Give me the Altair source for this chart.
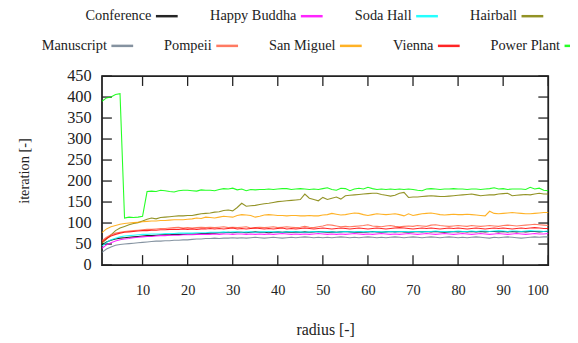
import altair as alt
import pandas as pd

radius = list(range(1, 101))

conference = [48, 55, 59, 62, 64, 65, 66, 67, 68, 69, 70, 70, 71, 72, 72, 72, 73, 73, 73, 74,
              74, 74, 75, 75, 76, 76, 77, 77, 78, 77, 78, 78, 77, 78, 79, 78, 78, 77, 78, 79,
              78, 79, 78, 79, 78, 79, 78, 79, 80, 79, 78, 79, 78, 79, 80, 79, 78, 79, 78, 79,
              80, 79, 78, 79, 80, 79, 80, 79, 78, 79, 80, 79, 80, 79, 80, 79, 78, 79, 80, 79,
              80, 79, 80, 79, 80, 79, 80, 80, 79, 80, 79, 80, 79, 80, 79, 80, 80, 79, 80, 80]
happy_buddha = [40, 48, 53, 57, 60, 62, 63, 65, 66, 67, 68, 68, 69, 70, 70, 71, 71, 71, 72, 72,
                72, 73, 73, 73, 73, 74, 73, 74, 74, 73, 74, 74, 73, 74, 73, 74, 73, 74, 73, 74,
                75, 74, 73, 74, 73, 74, 73, 74, 75, 74, 73, 74, 73, 74, 73, 74, 75, 74, 73, 74,
                73, 74, 75, 74, 73, 74, 73, 74, 75, 74, 73, 74, 75, 74, 73, 74, 75, 74, 73, 74,
                75, 74, 73, 74, 75, 74, 73, 74, 75, 74, 73, 74, 75, 74, 73, 74, 75, 74, 74, 75]
soda_hall = [45, 54, 60, 64, 67, 69, 70, 71, 72, 73, 73, 74, 74, 74, 75, 75, 75, 76, 76, 76,
             76, 77, 77, 77, 78, 78, 78, 79, 78, 79, 79, 78, 79, 79, 78, 79, 79, 80, 79, 79,
             78, 79, 80, 79, 79, 78, 79, 80, 79, 79, 80, 79, 78, 79, 80, 79, 79, 80, 79, 80,
             79, 80, 79, 79, 80, 79, 80, 80, 79, 80, 80, 79, 80, 80, 81, 80, 80, 79, 80, 81,
             80, 80, 81, 80, 81, 81, 80, 81, 82, 81, 80, 81, 81, 80, 81, 82, 81, 81, 80, 81]
hairball = [52, 62, 72, 82, 88, 92, 96, 99, 101, 105, 109, 112, 110, 113, 114, 115, 116, 117, 117, 118,
            118, 120, 122, 123, 124, 126, 127, 130, 131, 129, 137, 147, 140, 141, 142, 144, 146, 147, 149, 151,
            152, 153, 154, 155, 156, 169, 159, 156, 153, 161, 156, 159, 162, 157, 165, 166, 167, 168, 169, 170,
            171, 171, 168, 166, 164, 166, 171, 173, 161, 162, 162, 163, 164, 165, 164, 163, 163, 164, 165, 166,
            167, 168, 169, 167, 165, 166, 167, 167, 169, 170, 171, 165, 166, 167, 168, 167, 169, 171, 169, 169]
manuscript = [30, 38, 43, 47, 49, 50, 51, 52, 53, 54, 55, 56, 57, 57, 58, 58, 59, 59, 60, 60,
              61, 62, 62, 63, 63, 64, 63, 64, 64, 65, 64, 65, 64, 65, 66, 65, 64, 65, 66, 65,
              64, 65, 66, 65, 66, 67, 66, 65, 66, 65, 66, 65, 66, 67, 66, 65, 66, 65, 66, 67,
              66, 65, 66, 65, 66, 67, 66, 65, 66, 67, 66, 65, 66, 67, 66, 65, 66, 67, 66, 65,
              66, 65, 66, 67, 66, 65, 64, 66, 65, 66, 67, 66, 65, 64, 65, 66, 67, 66, 67, 67]
pompeii = [58, 66, 72, 76, 78, 80, 81, 82, 83, 84, 85, 85, 86, 87, 87, 88, 89, 90, 88, 89,
           88, 89, 90, 89, 90, 89, 90, 91, 89, 90, 89, 90, 91, 88, 89, 90, 89, 90, 91, 89,
           90, 91, 90, 89, 90, 92, 90, 89, 91, 93, 96, 95, 93, 91, 92, 91, 92, 93, 94, 96,
           93, 92, 91, 93, 94, 92, 91, 92, 93, 92, 94, 93, 92, 95, 96, 94, 93, 92, 93, 94,
           93, 92, 94, 93, 92, 93, 94, 93, 92, 94, 95, 94, 93, 94, 95, 96, 97, 96, 95, 94]
san_miguel = [77, 86, 91, 94, 97, 99, 100, 101, 102, 103, 104, 105, 105, 106, 106, 107, 108, 108, 108, 109,
              110, 112, 111, 114, 113, 112, 114, 116, 115, 114, 118, 120, 119, 118, 114, 116, 119, 120, 119, 118,
              118, 117, 118, 118, 117, 117, 118, 117, 117, 119, 120, 123, 121, 119, 120, 122, 124, 123, 120, 118,
              120, 122, 121, 120, 121, 122, 120, 117, 122, 118, 120, 122, 123, 124, 122, 120, 119, 120, 121, 120,
              120, 121, 120, 119, 118, 117, 128, 123, 122, 123, 124, 125, 124, 123, 122, 122, 123, 124, 125, 125]
vienna = [55, 63, 69, 73, 76, 78, 79, 80, 81, 82, 82, 83, 83, 84, 84, 85, 85, 85, 86, 85,
          86, 85, 86, 86, 87, 86, 87, 86, 87, 88, 86, 87, 86, 87, 88, 87, 86, 87, 86, 87,
          88, 86, 87, 86, 87, 88, 87, 86, 87, 88, 87, 86, 87, 88, 87, 86, 87, 88, 87, 86,
          87, 88, 87, 86, 87, 88, 89, 88, 87, 86, 87, 88, 87, 88, 87, 86, 87, 88, 87, 88,
          87, 86, 87, 88, 87, 86, 87, 88, 87, 88, 87, 86, 87, 88, 87, 88, 89, 88, 87, 87]
power_plant = [390, 398, 400, 406, 408, 112, 114, 113, 114, 116, 175, 176, 175, 178, 177, 175, 174, 177, 178, 178,
               177, 176, 179, 178, 178, 177, 180, 182, 181, 183, 179, 181, 177, 180, 179, 180, 180, 181, 180, 181,
               182, 182, 180, 181, 182, 181, 180, 181, 180, 182, 184, 180, 178, 183, 182, 177, 181, 183, 181, 185,
               182, 180, 181, 180, 181, 180, 181, 180, 181, 180, 178, 177, 181, 182, 181, 180, 181, 181, 182, 181,
               181, 180, 181, 181, 180, 181, 182, 184, 181, 182, 180, 181, 181, 181, 180, 185, 181, 183, 178, 177]

names_a = ["Conference", "Happy Buddha", "Soda Hall", "Hairball"]
colors_a = ["#000000", "#ff00ff", "#00ffff", "#808000"]
series_a = [conference, happy_buddha, soda_hall, hairball]

names_b = ["Manuscript", "Pompeii", "San Miguel", "Vienna", "Power Plant"]
colors_b = ["#708090", "#ff6347", "#ffa500", "#ff0000", "#00ff00"]
series_b = [manuscript, pompeii, san_miguel, vienna, power_plant]

x_ticks = [10, 20, 30, 40, 50, 60, 70, 80, 90, 100]
y_ticks = [0, 50, 100, 150, 200, 250, 300, 350, 400, 450]

W, H = 451, 191
TICK = 10
FONT = "'Liberation Serif', 'Times New Roman', 'DejaVu Serif', serif"
INK = "#222222"


def long_table(names, series):
    rows = []
    for name, vals in zip(names, series):
        for r, v in zip(radius, vals):
            rows.append({"radius": r, "iteration": v, "scene": name})
    return pd.DataFrame(rows)


df_a = long_table(names_a, series_a)
df_b = long_table(names_b, series_b)
df_xt = pd.DataFrame({"radius": x_ticks})
df_yt = pd.DataFrame({"iteration": y_ticks})

xscale = alt.Scale(domain=[1, 100], nice=False, zero=False)
yscale = alt.Scale(domain=[0, 450], nice=False)

x_axis = alt.Axis(
    orient="bottom", values=x_ticks, format="d", ticks=False, domain=False, grid=False,
    labelPadding=19, labelFont=FONT, labelFontSize=14.5, labelColor=INK,
    title="radius [-]", titleFont=FONT, titleFontSize=16, titleFontWeight="normal",
    titleColor=INK, titlePadding=25)
y_axis = alt.Axis(
    orient="left", values=y_ticks, format="d", ticks=False, domain=False, grid=False,
    labelPadding=11, labelFont=FONT, labelFontSize=16.5, labelColor=INK,
    title="iteration [-]", titleFont=FONT, titleFontSize=14.5, titleFontWeight="normal",
    titleColor=INK, titlePadding=36)

X = alt.X("radius:Q", scale=xscale, axis=x_axis)
Y = alt.Y("iteration:Q", scale=yscale, axis=y_axis)


def legend(x, y, pad):
    return alt.Legend(
        title=None, orient="none", legendX=x, legendY=y, direction="horizontal",
        symbolType="stroke", symbolSize=484, symbolStrokeWidth=2.5,
        labelAlign="right", labelOffset={"expr": "-28"}, columnPadding=pad, padding=0,
        labelFont=FONT, labelFontSize=14.5, labelColor=INK,
    )


# inward tick marks on all four sides, positioned by the shared scales
tick_style = dict(color=INK, strokeWidth=1.3)
ticks_bottom = alt.Chart(df_xt).mark_rule(**tick_style).encode(
    x=X, y=alt.value(H), y2=alt.value(H - TICK))
ticks_top = alt.Chart(df_xt).mark_rule(**tick_style).encode(
    x=X, y=alt.value(0), y2=alt.value(TICK))
ticks_left = alt.Chart(df_yt).mark_rule(**tick_style).encode(
    y=Y, x=alt.value(0), x2=alt.value(TICK))
ticks_right = alt.Chart(df_yt).mark_rule(**tick_style).encode(
    y=Y, x=alt.value(W), x2=alt.value(W - TICK))

layer_a = alt.Chart(df_a).mark_line(strokeWidth=1.1, opacity=0.85).encode(
    x=X, y=Y,
    color=alt.Color("scene:N", scale=alt.Scale(domain=names_a, range=colors_a),
                    legend=legend(53, -73, 26.5)),
)

layer_b = alt.Chart(df_b).mark_line(strokeWidth=1.1, opacity=0.85).encode(
    x=X, y=Y,
    color=alt.Color("scene:N", scale=alt.Scale(domain=names_b, range=colors_b),
                    legend=legend(8, -43, 25)),
)

chart = alt.layer(
    ticks_bottom, ticks_top, ticks_left, ticks_right, layer_a, layer_b
).resolve_scale(color="independent").properties(
    width=W, height=H,
    autosize=alt.AutoSizeParams(type="none"),
    padding={"left": 95, "top": 67, "right": 22, "bottom": 75},
).configure_view(
    stroke=INK, strokeWidth=1.8
)

chart.save("out.html", embed_options={"renderer": "svg", "actions": False})
